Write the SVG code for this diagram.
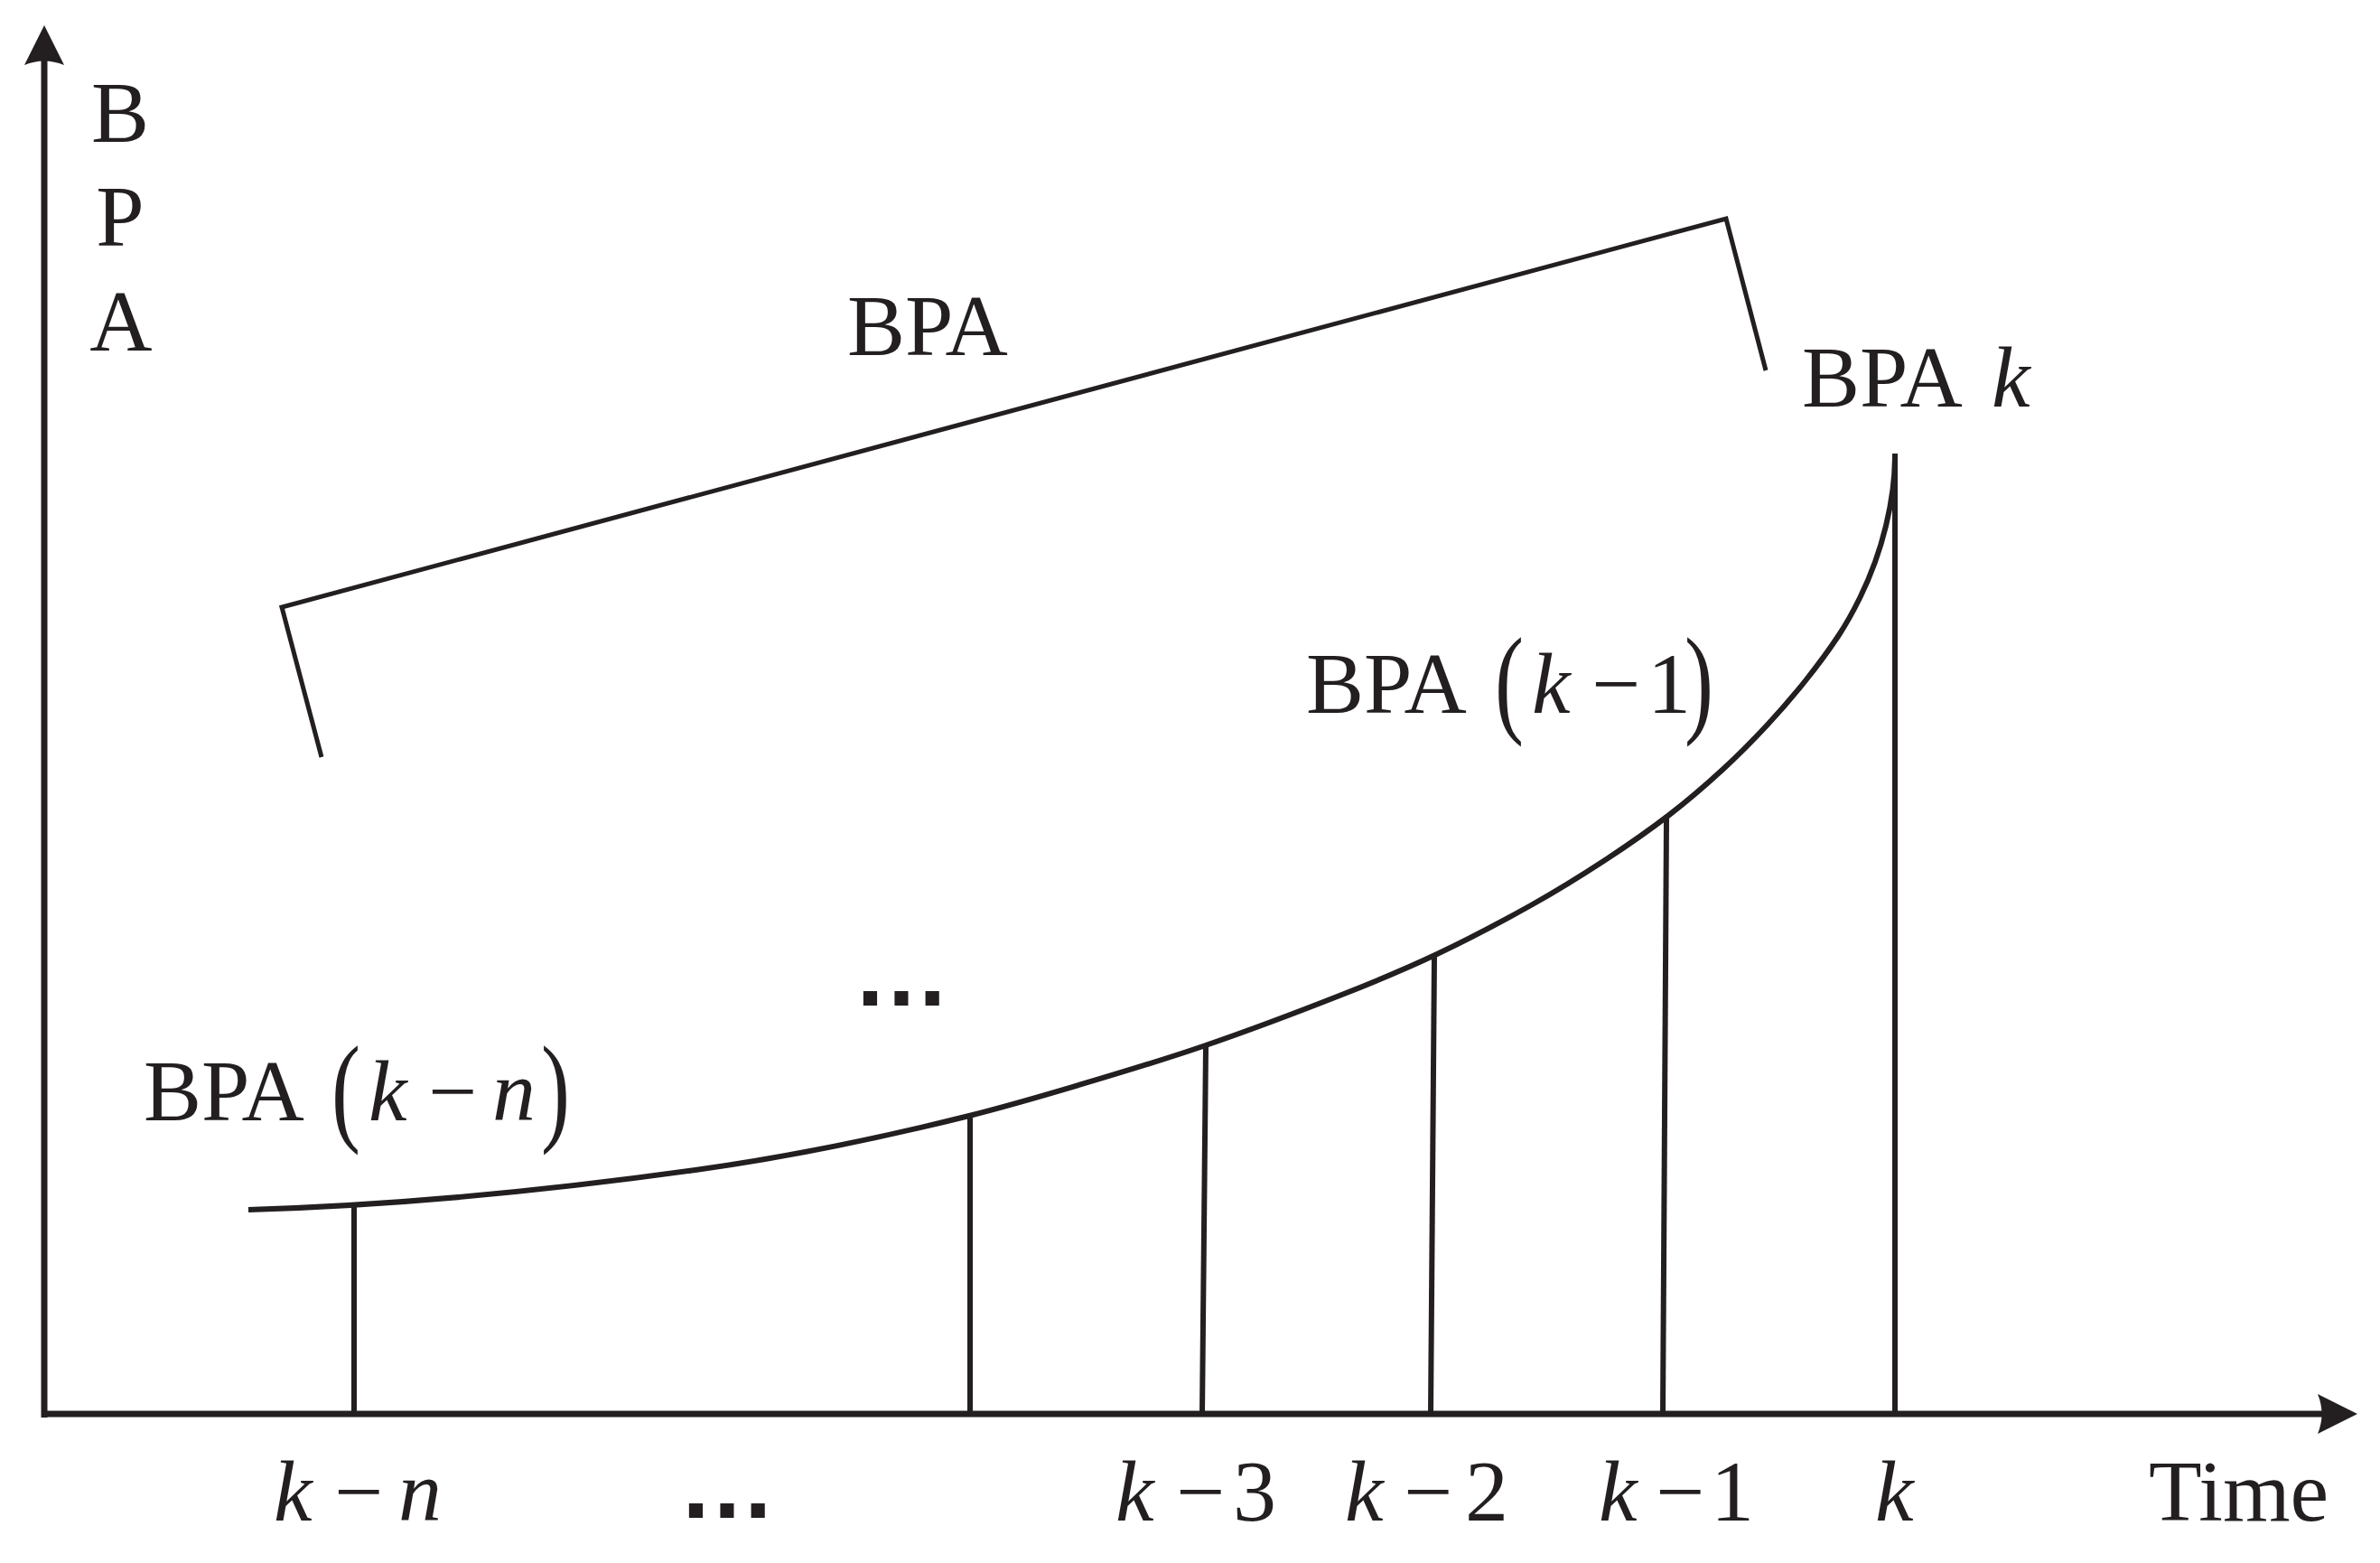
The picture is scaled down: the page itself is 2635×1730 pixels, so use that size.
<svg xmlns="http://www.w3.org/2000/svg" width="2635" height="1730" viewBox="0 0 2635 1730">
<style>
.t{font-family:"Liberation Serif","Times New Roman",serif;font-size:96px;fill:#231f20}
.i{font-style:italic}
.d{font-family:"Liberation Sans",Arial,sans-serif;font-size:108px;font-weight:bold;fill:#231f20}
.ln{stroke:#231f20;fill:none}
</style>
<rect width="2635" height="1730" fill="#ffffff"/>
<g id="axes">
  <line class="ln" x1="49" y1="1569" x2="49" y2="66" stroke-width="7"/>
  <line class="ln" x1="46" y1="1565" x2="2572" y2="1565" stroke-width="7"/>
  <path d="M49,28 L71,72 Q49,63 27,72 Z" fill="#231f20"/>
  <path d="M2610,1565 L2566,1543 Q2575,1565 2566,1587 Z" fill="#231f20"/>
</g>
<g id="curve">
  <path class="ln" stroke-width="6" d="M275,1339 C440,1334 605,1318.1 770,1295 C871,1280.9 972,1260.25 1073,1235 C1118.5,1223.5 1147.8,1214.8 1191,1202 C1234.2,1189.2 1283.3,1174.7 1332,1158 C1380.7,1141.3 1439.8,1119 1483,1102 C1526.2,1085 1555.7,1072.7 1591,1056 C1626.3,1039.3 1664,1019.3 1695,1002 C1726,984.7 1751.5,968.7 1777,952 C1802.5,935.3 1826.3,918.7 1848,902 C1869.7,885.3 1888.8,868.7 1907,852 C1925.2,835.3 1941.5,818.7 1957,802 C1972.5,785.3 1986.75,768.7 2000,752 C2013.25,735.3 2026.7,717 2036.5,702 C2046.3,687 2052.4,675.3 2059,662 C2065.6,648.7 2071.2,635.3 2076,622 C2080.8,608.7 2084.75,595.3 2088,582 C2091.25,568.7 2093.8,555.3 2095.5,542 C2097.2,528.7 2098,515.3 2098,502"/>
</g>
<g id="ticks" class="ln" stroke-width="6">
  <line x1="392" y1="1565" x2="392" y2="1334"/>
  <line x1="1074" y1="1565" x2="1074" y2="1236"/>
  <line x1="1331" y1="1565" x2="1335" y2="1158"/>
  <line x1="1584" y1="1565" x2="1588" y2="1058"/>
  <line x1="1841" y1="1565" x2="1845" y2="905"/>
  <line x1="2098" y1="1565" x2="2098" y2="502"/>
</g>
<g id="bracket">
  <polyline class="ln" stroke-width="5" stroke-linejoin="miter" points="356,838 312,672 1911,242 1955,410"/>
</g>
<g id="y-label">
  <text class="t" x="133" y="157" text-anchor="middle">B</text>
  <text class="t" x="133" y="272" text-anchor="middle">P</text>
  <text class="t" x="134" y="388" text-anchor="middle">A</text>
</g>
<g id="label-bpa">
  <text class="t" x="938" y="393">BPA</text>
</g>
<g id="label-bpa-k">
  <text class="t" x="1995" y="450">BPA</text>
  <text class="t i" x="2205" y="450">k</text>
</g>
<g id="label-bpa-k-1">
  <text class="t" x="1446" y="789">BPA</text>
  <text class="t" transform="translate(1655,798) scale(1,1.39)">(</text>
  <text class="t i" x="1696" y="789">k</text>
  <text class="t" x="1762" y="789">−</text>
  <text class="t" x="1824" y="789">1</text>
  <text class="t" transform="translate(1865,798) scale(1,1.39)">)</text>
</g>
<g id="label-bpa-k-n">
  <text class="t" x="159" y="1240">BPA</text>
  <text class="t" transform="translate(367,1250) scale(1,1.39)">(</text>
  <text class="t i" x="408" y="1240">k</text>
  <text class="t" x="474" y="1240">−</text>
  <text class="t i" x="545" y="1240">n</text>
  <text class="t" transform="translate(599,1250) scale(1,1.39)">)</text>
</g>
<g id="dots-mid">
  <text class="d" x="944" y="1113">…</text>
</g>
<g id="x-labels">
  <text class="t i" x="303" y="1683">k</text>
  <text class="t" x="370" y="1683">−</text>
  <text class="t i" x="441" y="1683">n</text>
  <text class="d" x="751" y="1680">…</text>
  <text class="t i" x="1235" y="1683">k</text>
  <text class="t" x="1302" y="1683">−</text>
  <text class="t" x="1365" y="1683">3</text>
  <text class="t i" x="1489" y="1683">k</text>
  <text class="t" x="1554" y="1683">−</text>
  <text class="t" x="1622" y="1683">2</text>
  <text class="t i" x="1770" y="1683">k</text>
  <text class="t" x="1833" y="1683">−</text>
  <text class="t" x="1894" y="1683">1</text>
  <text class="t i" x="2076" y="1683">k</text>
  <text class="t" x="2379" y="1683">Time</text>
</g>
</svg>
